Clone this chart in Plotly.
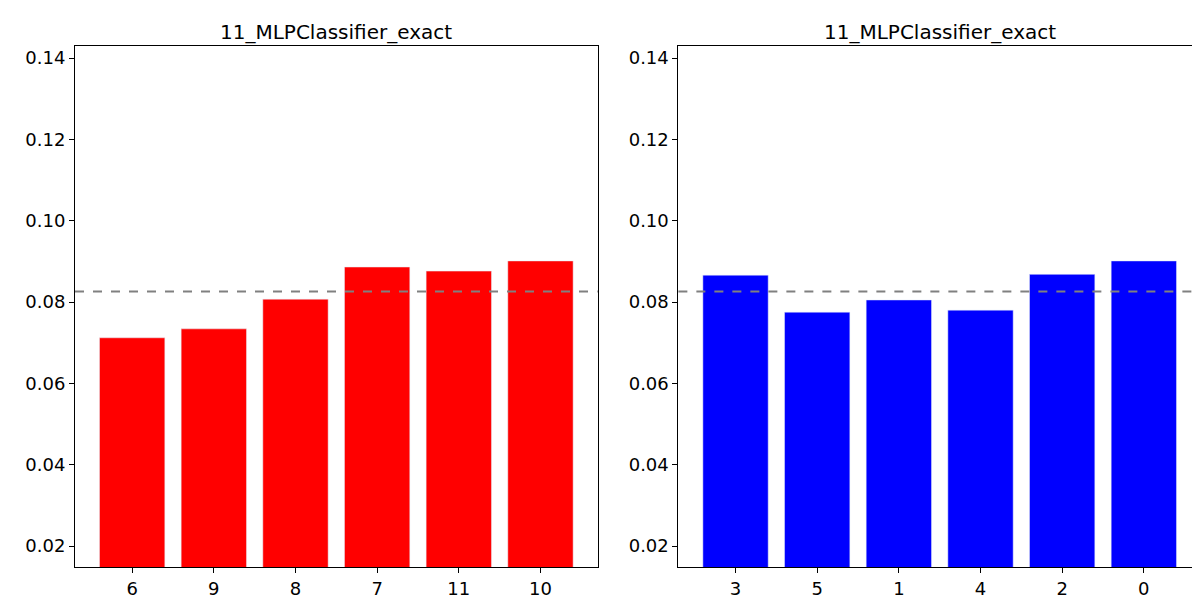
import plotly.graph_objects as go
from plotly.subplots import make_subplots

left_cats = ["6", "9", "8", "7", "11", "10"]
left_vals = [0.0712, 0.0734, 0.0807, 0.0886, 0.0876, 0.0901]
right_cats = ["3", "5", "1", "4", "2", "0"]
right_vals = [0.0866, 0.0775, 0.0805, 0.0780, 0.0868, 0.0901]
mean_line = 0.0826
title = "11_MLPClassifier_exact"
yticks = [0.02, 0.04, 0.06, 0.08, 0.10, 0.12, 0.14]

fig = make_subplots(rows=1, cols=2, horizontal_spacing=0.0717, subplot_titles=[title, title])
fig.add_bar(x=left_cats, y=left_vals, marker_color="red", width=0.8, row=1, col=1)
fig.add_bar(x=right_cats, y=right_vals, marker_color="blue", width=0.8, row=1, col=2)
for c, cats in ((1, left_cats), (2, right_cats)):
    fig.add_shape(type="line", xref=f"x{'' if c==1 else 2} domain", yref=f"y{'' if c==1 else 2}",
                  x0=0, x1=1, y0=mean_line, y1=mean_line,
                  line=dict(color="gray", width=2, dash="dash"))
    fig.update_xaxes(row=1, col=c, type="category", range=[-0.7, 5.7], showline=True, mirror=True,
                     linecolor="black", ticks="outside", tickcolor="black", ticklen=5,
                     tickfont=dict(size=18, color="black"), showgrid=False, automargin=False)
    fig.update_yaxes(row=1, col=c, range=[0.01484, 0.14295], showline=True, mirror=True,
                     linecolor="black", ticks="outside", tickcolor="black", ticklen=5,
                     tickvals=yticks, ticktext=[f"{v:.2f}" for v in yticks],
                     tickfont=dict(size=18, color="black"), showgrid=False, zeroline=False,
                     automargin=False)
for a in fig.layout.annotations:
    a.font = dict(size=20, color="black")
    a.yshift = 0
fig.update_layout(width=1200, height=600, showlegend=False, plot_bgcolor="white", paper_bgcolor="white",
                  font=dict(family="DejaVu Sans"), margin=dict(l=67, r=7, t=38, b=41, autoexpand=False))
fig.write_html("out.html")
